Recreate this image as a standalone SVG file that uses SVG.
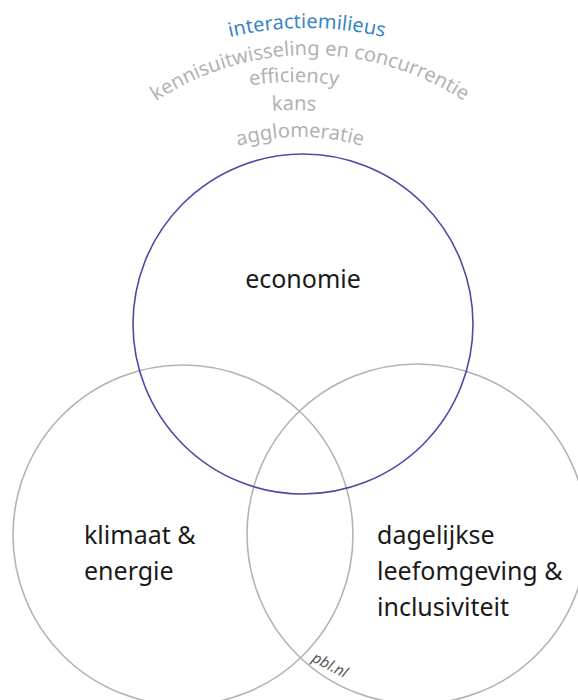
<svg xmlns="http://www.w3.org/2000/svg" width="578" height="700" viewBox="0 0 578 700">
<style>
.circ{fill:none;stroke-width:1.6}
.grey{stroke:#b3b3b3}
.blue{stroke:#4b4aa6}
.lbl{font-family:"Noto Sans","Open Sans",sans-serif;font-size:25px;fill:#1a1a1a}
.arc{font-family:"Noto Sans","Open Sans",sans-serif;font-size:20px;fill:#b2b2b2}
.arcblue{fill:#3a86c6}
.pbl{font-family:"Noto Sans","Open Sans",sans-serif;font-size:15px;fill:#555;font-style:italic}
</style>
<defs>
<path id="pInter" d="M 23.8,191.5 A 327 327 0 0 1 590.2,191.5"/>
<path id="pKennis" d="M 67.5,195 A 280 280 0 0 1 552.5,195"/>
<path id="pEff" d="M 57.6,218.5 A 273 273 0 0 1 530.4,218.5"/>
<path id="pKans" d="M 81.8,232.5 A 245 245 0 0 1 506.2,232.5"/>
<path id="pAggl" d="M 111.2,246 A 218 218 0 0 1 488.8,246"/>
</defs>
<rect width="578" height="700" fill="#ffffff"/>
<g id="labels-top">
<text class="arc arcblue"><textPath href="#pInter" startOffset="50%" text-anchor="middle">interactiemilieus</textPath></text>
<text class="arc"><textPath href="#pKennis" startOffset="50%" text-anchor="middle">kennisuitwisseling en concurrentie</textPath></text>
<text class="arc"><textPath href="#pEff" startOffset="50%" text-anchor="middle">efficiency</textPath></text>
<text class="arc"><textPath href="#pKans" startOffset="50%" text-anchor="middle">kans</textPath></text>
<text class="arc"><textPath href="#pAggl" startOffset="50%" text-anchor="middle">agglomeratie</textPath></text>
</g>
<g id="node-klimaat">
<circle class="circ grey" cx="183" cy="535" r="170"/>
<text class="lbl" x="84" y="544">klimaat &amp;</text>
<text class="lbl" x="84" y="580">energie</text>
</g>
<g id="node-leefomgeving">
<circle class="circ grey" cx="417" cy="534" r="170"/>
<text class="lbl" x="377" y="544">dagelijkse</text>
<text class="lbl" x="377" y="580">leefomgeving &amp;</text>
<text class="lbl" x="377" y="616">inclusiviteit</text>
</g>
<g id="node-economie">
<circle class="circ blue" cx="303" cy="324" r="170"/>
<text class="lbl" x="303" y="288" text-anchor="middle">economie</text>
</g>
<g id="connectors"></g>
<text class="pbl" x="311" y="661" transform="rotate(27 311 661)">pbl.nl</text>
</svg>
